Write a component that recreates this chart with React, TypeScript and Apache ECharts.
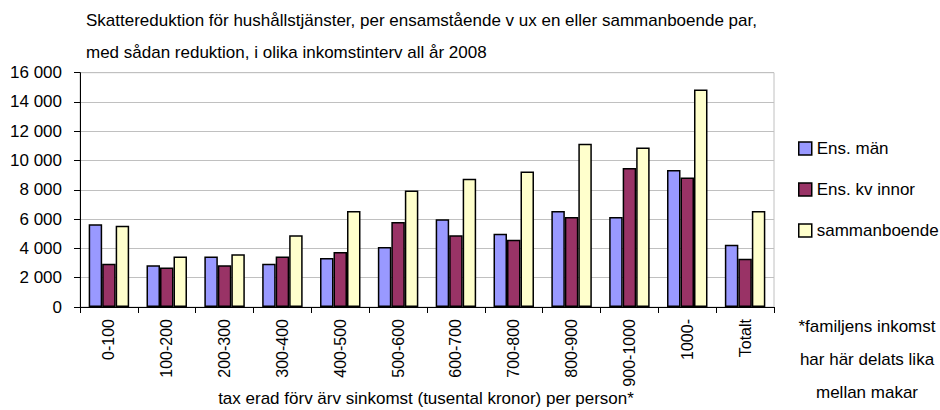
import React, { useEffect, useRef } from "react";
import * as echarts from "echarts";

const categories = ["0-100", "100-200", "200-300", "300-400", "400-500", "500-600", "600-700", "700-800", "800-900", "900-1000", "1000-", "Totalt"];
const ensMan = [5650, 2850, 3450, 2950, 3350, 4100, 6000, 5000, 6550, 6150, 9350, 4250];
const ensKvinnor = [2950, 2700, 2850, 3450, 3750, 5800, 4900, 4600, 6150, 9500, 8850, 3300];
const sammanboende = [5550, 3450, 3600, 4900, 6550, 7950, 8750, 9250, 11150, 10900, 14850, 6550];
const seriesNames = ["Ens. män", "Ens. kv innor", "sammanboende"];
const titleLines = [
  "Skattereduktion för hushållstjänster, per ensamstående v ux en eller sammanboende par,",
  "med sådan reduktion, i olika inkomstinterv all år 2008",
];
const xTitle = "tax erad förv ärv sinkomst (tusental kronor) per person*";
const footnote = ["*familjens inkomst", "har här delats lika", "mellan makar"];

const FONT = "'Liberation Sans', Arial, sans-serif";

export default function App() {
  const ref = useRef<HTMLDivElement>(null);
  useEffect(() => {
    if (!ref.current) return;
    const chart = echarts.init(ref.current, undefined, { renderer: "svg" });
    const colors = ["#9999FF", "#993366", "#FFFFCC"];
    const data = [ensMan, ensKvinnor, sammanboende];
    chart.setOption({
      animation: false,
      backgroundColor: "#ffffff",
      textStyle: { fontFamily: FONT },
      grid: {
        left: 80,
        top: 72.7,
        width: 694,
        height: 234.3,
        show: true,
        borderColor: "#c0c0c0",
        borderWidth: 1,
        containLabel: false,
      },
      legend: {
        orient: "vertical",
        left: 793,
        top: 135,
        itemWidth: 13,
        itemHeight: 13,
        itemGap: 24,
        icon: "rect",
        itemStyle: { borderColor: "#000", borderWidth: 1.5 },
        textStyle: { fontSize: 17, color: "#000", fontFamily: FONT },
        data: seriesNames,
      },
      xAxis: {
        type: "category",
        data: categories,
        axisLine: { lineStyle: { color: "#000", width: 1 } },
        axisTick: { show: true, length: 6, lineStyle: { color: "#000" } },
        axisLabel: { rotate: 90, margin: 12, fontSize: 16, color: "#000", fontFamily: FONT },
      },
      yAxis: {
        type: "value",
        min: 0,
        max: 16000,
        interval: 2000,
        axisLine: { show: true, lineStyle: { color: "#000", width: 1 } },
        axisTick: { show: true, length: 6, lineStyle: { color: "#000" } },
        axisLabel: {
          fontSize: 17,
          color: "#000",
          margin: 18,
          fontFamily: FONT,
          formatter: (v: number) => (v >= 1000 ? `${Math.floor(v / 1000)} ${String(v % 1000).padStart(3, "0")}` : `${v}`),
        },
        splitLine: { show: true, lineStyle: { color: "#c0c0c0", width: 1 } },
      },
      series: seriesNames.map((name, i) => ({
        name,
        type: "bar",
        data: data[i],
        barGap: "0%",
        barCategoryGap: "30%",
        itemStyle: { color: colors[i], borderColor: "#000", borderWidth: 1.5 },
      })),
      graphic: [
        ...titleLines.map((t, i) => ({
          type: "text",
          left: 86,
          top: 12 + i * 32,
          style: { text: t, fontSize: 17, fill: "#000", fontFamily: FONT },
        })),
        {
          type: "text",
          x: 426,
          y: 398,
          style: { text: xTitle, fontSize: 17, fill: "#000", fontFamily: FONT, align: "center", verticalAlign: "middle" },
        },
        ...footnote.map((t, i) => ({
          type: "text",
          x: 867,
          y: 326 + i * 33,
          style: { text: t, fontSize: 17, fill: "#000", fontFamily: FONT, align: "center", verticalAlign: "middle" },
        })),
      ],
    });
    return () => chart.dispose();
  }, []);
  return <div ref={ref} style={{ position: "fixed", left: 0, top: 0, width: 940, height: 410 }} />;
}
